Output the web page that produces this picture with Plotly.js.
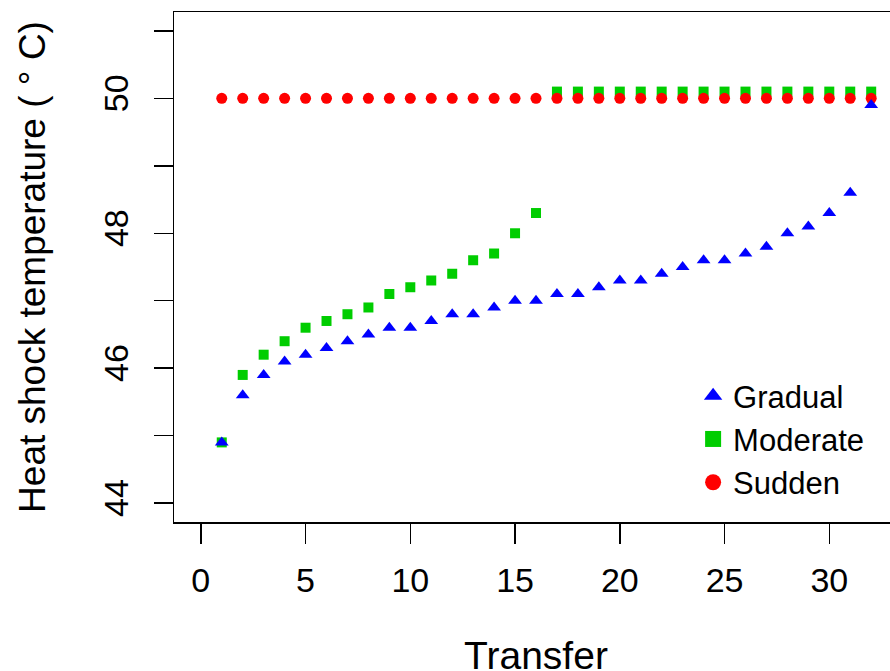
<!DOCTYPE html>
<html>
<head>
<meta charset="utf-8">
<script src="https://cdn.plot.ly/plotly-3.0.1.min.js"></script>
<style>
html, body { margin: 0; padding: 0; overflow: hidden; background: #fff; }
#chart { width: 898px; height: 700px; }
</style>
</head>
<body>
<div id="chart"></div>
<script>
const transfers = [1,2,3,4,5,6,7,8,9,10,11,12,13,14,15,16,17,18,19,20,21,22,23,24,25,26,27,28,29,30,31,32];
const gradual = [44.9,45.6,45.9,46.1,46.2,46.3,46.4,46.5,46.6,46.6,46.7,46.8,46.8,46.9,47.0,47.0,
                 47.1,47.1,47.2,47.3,47.3,47.4,47.5,47.6,47.6,47.7,47.8,48.0,48.1,48.3,48.6,49.9];
const moderate = [44.9,45.9,46.2,46.4,46.6,46.7,46.8,46.9,47.1,47.2,47.3,47.4,47.6,47.7,48.0,48.3,
                  50.1,50.1,50.1,50.1,50.1,50.1,50.1,50.1,50.1,50.1,50.1,50.1,50.1,50.1,50.1,50.1];
const sudden = [50,50,50,50,50,50,50,50,50,50,50,50,50,50,50,50,
                50,50,50,50,50,50,50,50,50,50,50,50,50,50,50,50];
const seriesNames = ["Gradual", "Moderate", "Sudden"];
const xTickVals = [0,5,10,15,20,25,30];
const yTickVals = [44,45,46,47,48,49,50,51];
const yTickText = ["44","","46","","48","","50",""];

const FONT = "Liberation Sans, Arial, sans-serif";
const COLORS = {Gradual: "#0000FF", Moderate: "#00CD00", Sudden: "#FF0000"};
const SYMBOLS = {Gradual: "triangle-up", Moderate: "square", Sudden: "circle"};

const traces = [
  {x: transfers, y: moderate, name: seriesNames[1], type: "scatter", mode: "markers", showlegend: false,
   marker: {symbol: SYMBOLS.Moderate, size: 10, color: COLORS.Moderate}},
  {x: transfers, y: sudden, name: seriesNames[2], type: "scatter", mode: "markers", showlegend: false,
   marker: {symbol: SYMBOLS.Sudden, size: 11, color: COLORS.Sudden}},
  {x: transfers, y: gradual, name: seriesNames[0], type: "scatter", mode: "markers", showlegend: false,
   marker: {symbol: SYMBOLS.Gradual, size: 12, color: COLORS.Gradual}}
];
// legend entries (bigger legend symbols, like the reference key)
seriesNames.forEach(function (n) {
  traces.push({x: [null], y: [null], name: n, type: "scatter", mode: "markers", showlegend: true,
               marker: {symbol: SYMBOLS[n], size: 16, color: COLORS[n]}});
});

const layout = {
  width: 898, height: 700,
  margin: {l: 174, r: 0, t: 12, b: 178, autoexpand: false},
  paper_bgcolor: "#fff", plot_bgcolor: "#fff",
  font: {family: FONT, size: 34, color: "#000"},
  showlegend: true,
  legend: {x: 0.717, y: 0.3, xanchor: "left", yanchor: "top",
           bgcolor: "rgba(0,0,0,0)", font: {size: 31, family: FONT},
           traceorder: "normal", tracegroupgap: 0},
  xaxis: {
    range: [-1.28, 33.28], tickvals: xTickVals, ticks: "outside", ticklen: 20, tickwidth: 1.5,
    tickcolor: "#000", showgrid: false, zeroline: false, showline: true, linewidth: 1.5,
    linecolor: "#000", mirror: true, tickfont: {size: 34, family: FONT},
    ticklabelstandoff: 8, automargin: false,
    title: {text: "Transfer", font: {size: 39, family: FONT}, standoff: 43}
  },
  yaxis: {
    range: [43.72, 51.28], tickvals: yTickVals, ticktext: yTickText, ticks: "outside", ticklen: 19,
    tickwidth: 1.5, tickcolor: "#000", showgrid: false, zeroline: false, showline: true,
    linewidth: 1.5, linecolor: "#000", mirror: true, tickangle: -90,
    tickfont: {size: 34, family: FONT}, ticklabelstandoff: 12, automargin: false,
    title: {text: "Heat shock temperature ( \u00B0 C)", font: {size: 37, family: FONT}, standoff: 40}
  }
};

Plotly.newPlot("chart", traces, layout, {displayModeBar: false, staticPlot: true});
</script>
</body>
</html>
